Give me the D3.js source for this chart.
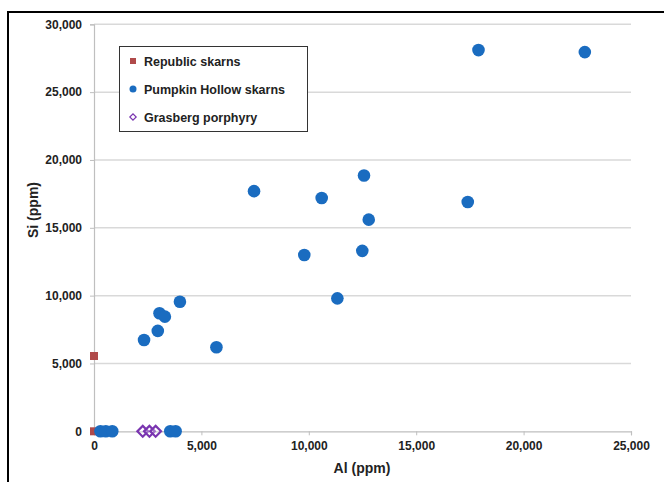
<!DOCTYPE html>
<html><head><meta charset="utf-8">
<script src="https://cdn.jsdelivr.net/npm/d3@7"></script>
<style>body{margin:0;background:#fff;}svg{display:block;font-family:Arial,"Liberation Sans",sans-serif;}</style>
</head><body>
<svg id="c" width="664" height="482"></svg>
<script>
const republicAl = [0, 0];
const republicSi = [5550, 0];
const pumpkinAl = [17900, 22850, 7450, 10600, 12570, 12790, 9790, 12490, 11330, 17400, 5700, 4000, 3050, 3300, 2970, 2330, 300, 550, 850, 3550, 3800];
const pumpkinSi = [28100, 27950, 17700, 17200, 18850, 15600, 13000, 13300, 9800, 16900, 6200, 9550, 8700, 8450, 7400, 6730, 0, 0, 0, 0, 0];
const grasbergAl = [2270, 2580, 2870];
const grasbergSi = [0, 0, 0];
const xTicks = [0, 5000, 10000, 15000, 20000, 25000];
const yTicks = [0, 5000, 10000, 15000, 20000, 25000, 30000];
const seriesNames = ["Republic skarns", "Pumpkin Hollow skarns", "Grasberg porphyry"];

const svg = d3.select("#c");
const x = d3.scaleLinear().domain([0, 25000]).range([94, 631]);
const y = d3.scaleLinear().domain([0, 30000]).range([431.3, 24.3]);
const fmt = d3.format(",");

// frame
svg.append("path").attr("d","M8,482 L8,12 L664,12").attr("fill","none").attr("stroke","#000").attr("stroke-width",2);

// gridlines
svg.append("g").selectAll("line").data(yTicks.slice(1)).join("line")
  .attr("x1", x(0)).attr("x2", x(25000)).attr("y1", d=>y(d)).attr("y2", d=>y(d))
  .attr("stroke","#d9d9d9").attr("stroke-width",1.5);

// axes
const xa = svg.append("g").attr("transform",`translate(0,${y(0)})`)
  .call(d3.axisBottom(x).tickValues(xTicks).tickFormat(fmt).tickSize(4).tickPadding(6));
const ya = svg.append("g").attr("transform",`translate(${x(0)},0)`)
  .call(d3.axisLeft(y).tickValues(yTicks).tickFormat(fmt).tickSize(4).tickPadding(8));
[xa, ya].forEach(a=>{
  a.select(".domain").attr("stroke","#bfbfbf").attr("stroke-width",1.2);
  a.selectAll(".tick line").attr("stroke","#bfbfbf");
  a.selectAll("text").attr("fill","#222").attr("font-size",12).attr("font-weight","bold").attr("font-family","Arial, 'Liberation Sans', sans-serif");
});

// axis titles
svg.append("text").attr("x",362).attr("y",473).attr("text-anchor","middle")
  .attr("font-size",14).attr("font-weight","bold").attr("fill","#222").text("Al (ppm)");
svg.append("text").attr("transform","translate(38,210) rotate(-90)").attr("text-anchor","middle")
  .attr("font-size",14).attr("font-weight","bold").attr("fill","#222").text("Si (ppm)");

const blue = "#1a6cc0", red = "#b04a4a", purple = "#7a35b0";

// Grasberg diamonds (rotated squares)
const dia = d3.symbol().type(d3.symbolSquare).size(58);
svg.append("g").selectAll("path").data(d3.range(grasbergAl.length)).join("path")
  .attr("d", dia).attr("transform", i=>`translate(${x(grasbergAl[i])},${y(grasbergSi[i])}) rotate(45)`)
  .attr("fill","#fff").attr("fill-opacity",0.3).attr("stroke",purple).attr("stroke-width",2.2);

// Republic squares
svg.append("g").selectAll("rect").data(d3.range(republicAl.length)).join("rect")
  .attr("x", i=>x(republicAl[i])-4).attr("y", i=>y(republicSi[i])-4).attr("width",8).attr("height",8)
  .attr("fill",red);

// Pumpkin Hollow circles
svg.append("g").selectAll("circle").data(d3.range(pumpkinAl.length)).join("circle")
  .attr("cx", i=>x(pumpkinAl[i])).attr("cy", i=>y(pumpkinSi[i])).attr("r",6.3)
  .attr("fill",blue);

// legend
const lg = svg.append("g");
lg.append("rect").attr("x",119.5).attr("y",46.5).attr("width",188).attr("height",85)
  .attr("fill","#fff").attr("stroke","#333").attr("stroke-width",1);
const ly = [61, 89, 117];
lg.append("rect").attr("x",130).attr("y",ly[0]-3).attr("width",6).attr("height",6).attr("fill",red);
lg.append("circle").attr("cx",133).attr("cy",ly[1]).attr("r",3.5).attr("fill",blue);
lg.append("path").attr("d", d3.symbol().type(d3.symbolSquare).size(20)).attr("transform",`translate(133,${ly[2]}) rotate(45)`)
  .attr("fill","#fff").attr("stroke",purple).attr("stroke-width",1.2);
lg.selectAll("text").data(seriesNames).join("text")
  .attr("x",144).attr("y",(d,i)=>ly[i]+4.5).attr("font-size",12.5).attr("font-weight","bold").attr("fill","#222").text(d=>d);
</script>
</body></html>
